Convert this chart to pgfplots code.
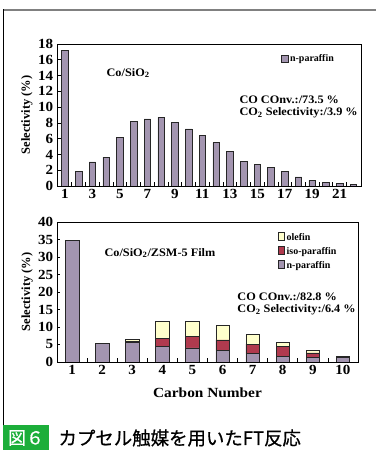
\documentclass[border=0pt]{standalone}
\usepackage{fontspec}
\setmainfont{Liberation Serif}
\newfontfamily\cjk{Noto Sans CJK JP}
\newfontfamily\cjkb[FakeBold=0.6]{Noto Sans CJK JP}
\usepackage{pgfplots}
\pgfplotsset{compat=1.18}
\definecolor{npar}{RGB}{163,149,176}
\definecolor{ipar}{RGB}{176,58,78}
\definecolor{olef}{RGB}{255,255,204}
\definecolor{figgreen}{RGB}{28,174,58}
\tikzset{ann/.style={font=\bfseries\fontsize{11.5}{12}\selectfont, xscale=1.07}}
\pgfplotsset{
  mystyle/.style={
    scale only axis,
    axis line style={line width=0.9bp},
    tick align=inside,
    xtick pos=left, ytick pos=left,
    major tick length=3.5bp, minor tick length=3.5bp,
    tick style={black, line width=0.7bp},
    major x tick style={draw=none},
    minor x tick num=1,
    ymin=0,
    /pgf/number format/assume math mode=true,
    tick label style={font=\bfseries\fontsize{14}{14}\selectfont, xscale=1.08},
    label style={font=\bfseries\fontsize{12.5}{13}\selectfont},
    ylabel style={at={(rel axis cs:-0.099,0.5)}, anchor=center},
    legend style={draw=none, fill=none, font=\bfseries\fontsize{10}{10}\selectfont,
      inner sep=0pt, row sep=0pt, cells={anchor=west}},
    legend image code/.code={\draw[#1, draw=black!85, line width=0.5bp] (0bp,-3.5bp) rectangle (7bp,3.5bp);},
  },
}
\begin{document}
\begin{tikzpicture}
\path[use as bounding box] (0bp,0bp) rectangle (376bp,450bp);
\draw[black!50, line width=1.2bp] (3bp,440bp) -- (376bp,440bp);
\draw[black, line width=1bp] (3bp,440.6bp) -- (3bp,24bp);
\fill[figgreen] (2.5bp,0bp) rectangle (49bp,24.5bp);
\node[white, font=\cjkb\fontsize{18}{18}\selectfont] at (26bp,12bp) {図６};
\node[anchor=west, font=\cjkb\fontsize{18.5}{18.5}\selectfont] at (55bp,12bp) {カプセル触媒を用いたFT反応};

\begin{axis}[mystyle, at={(57bp,264bp)}, anchor=south west, width=304bp, height=142bp,
  xmin=0.42, xmax=22.55, ymax=18, ytick={0,2,...,18},
  xtick={1,...,22}, xticklabels={1,,3,,5,,7,,9,,11,,13,,15,,17,,19,,21,},
  ylabel={Selectivity (\%)},
  legend style={at={(rel axis cs:0.735,0.894)}, anchor=west}]
\addplot[ybar, bar width=6.5bp, fill=npar, draw=black!85, line width=0.6bp] coordinates {
(1,17.2) (2,1.9) (3,3.05) (4,3.65) (5,6.15) (6,8.2) (7,8.5) (8,8.7) (9,8.05) (10,7.25)
(11,6.45) (12,5.5) (13,4.35) (14,3.15) (15,2.7) (16,2.35) (17,1.9) (18,1.15) (19,0.7)
(20,0.42) (21,0.3) (22,0.2)};
\addlegendentry{n-paraffin}
\node[ann] at (rel axis cs:0.234,0.796) {Co/SiO\textsubscript{2}};
\node[ann, anchor=west] at (rel axis cs:0.588,0.606) {CO COnv.:/73.5 \%};
\node[ann, anchor=west] at (rel axis cs:0.588,0.514) {CO\textsubscript{2} Selectivity:/3.9 \%};
\end{axis}

\begin{axis}[mystyle, at={(57bp,88bp)}, anchor=south west, width=301bp, height=140bp,
  xmin=0.5, xmax=10.5, ymax=40, ytick={0,5,...,40},
  xtick={1,...,10},
  ylabel={Selectivity (\%)}, xlabel={Carbon Number},
  xlabel style={at={(rel axis cs:0.5,-0.221)}, anchor=center, font=\bfseries\fontsize{14}{14}\selectfont, xscale=1.1},
  ybar stacked, bar width=13.5bp, reverse legend,
  legend style={at={(rel axis cs:0.734,0.786)}, anchor=west, row sep=1.5bp}]
\addplot[fill=npar, draw=black!85, line width=0.6bp] coordinates {
(1,34.7) (2,5.2) (3,5.7) (4,4.5) (5,4.0) (6,3.4) (7,2.4) (8,1.6) (9,1.3) (10,1.4)};
\addlegendentry{n-paraffin}
\addplot[fill=ipar, draw=black!85, line width=0.6bp] coordinates {
(1,0) (2,0) (3,0.1) (4,2.3) (5,3.2) (6,2.9) (7,2.7) (8,2.75) (9,1.3) (10,0.1)};
\addlegendentry{iso-paraffin}
\addplot[fill=olef, draw=black!85, line width=0.6bp] coordinates {
(1,0) (2,0) (3,0.7) (4,4.9) (5,4.5) (6,4.1) (7,2.7) (8,1.15) (9,0.8) (10,0)};
\addlegendentry{olefin}
\node[ann] at (rel axis cs:0.342,0.779) {Co/SiO\textsubscript{2}/ZSM-5 Film};
\node[ann, anchor=west] at (rel axis cs:0.587,0.464) {CO COnv.:/82.8 \%};
\node[ann, anchor=west] at (rel axis cs:0.587,0.371) {CO\textsubscript{2} Selectivity:/6.4 \%};
\end{axis}
\end{tikzpicture}
\end{document}
